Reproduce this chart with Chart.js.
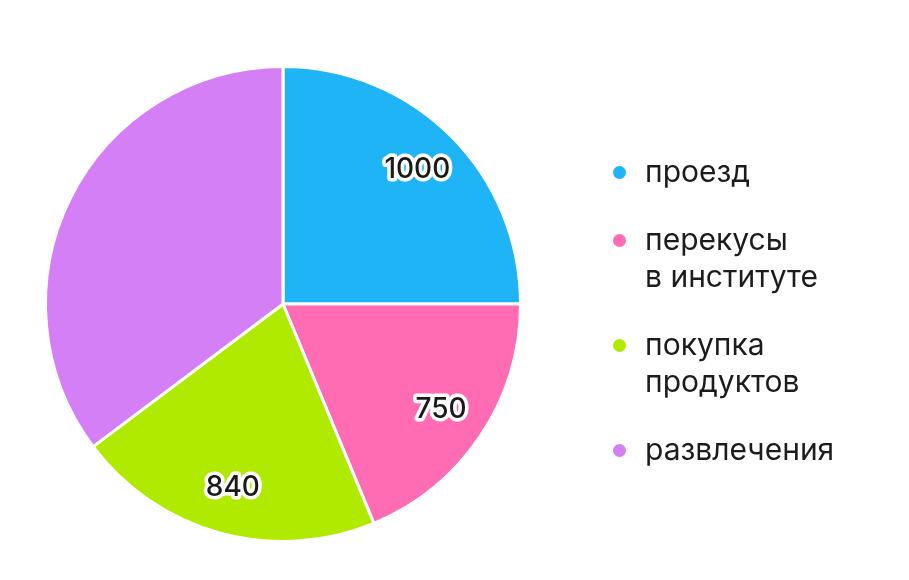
<!DOCTYPE html>
<html>
<head>
<meta charset="utf-8">
<script src="https://cdn.jsdelivr.net/npm/chart.js@4.4.1/dist/chart.umd.min.js"></script>
<style>
    html, body { margin: 0; padding: 0; background: #fff; }
    #wrap { position: relative; width: 909px; height: 580px; }
    #legend { position: absolute; left: 610px; top: 153px; font-family: Inter, "Noto Sans", sans-serif; font-size: 30px; color: #1c1c1c; }
    .item { position: relative; padding-left: 35px; line-height: 37px; margin-bottom: 31px; }
    .dot { position: absolute; left: 3px; top: 13px; width: 13px; height: 13px; border-radius: 50%; }
</style>
</head>
<body>
<div id="wrap">
    <canvas id="myChart" width="909" height="580"></canvas>
    <div id="legend"></div>
</div>
<script>
    // data
    const labels = [['проезд'], ['перекусы', 'в институте'], ['покупка', 'продуктов'], ['развлечения']];
    const values = [1000, 750, 840, 1410];
    const showValue = [true, true, true, false];
    const colors = ['#1fb4f5', '#ff6cb3', '#b0ea00', '#d47ff5'];

    let rows = ``;
    for (let i = 0; i < labels.length; i++) {
        rows += `<div class="item"><span class="dot" style="background:${colors[i]}"></span>${labels[i].join('<br>')}</div>`;
    }
    document.getElementById('legend').innerHTML = rows;

    // numbers on the slices, dark text with a white outline
    const sliceValues = {
        id: 'sliceValues',
        afterDatasetsDraw(chart) {
            const ctx = chart.ctx;
            const arcs = chart.getDatasetMeta(0).data;
            ctx.save();
            ctx.font = '500 28px Inter, "Noto Sans", sans-serif';
            ctx.textAlign = 'center';
            ctx.textBaseline = 'middle';
            ctx.lineJoin = 'round';
            arcs.forEach(function (arc, i) {
                if (!showValue[i]) return;
                const p = arc.getProps(['x', 'y', 'startAngle', 'endAngle', 'outerRadius'], true);
                const mid = (p.startAngle + p.endAngle) / 2;
                const r = p.outerRadius * 0.8;
                const x = p.x + Math.cos(mid) * r;
                const y = p.y + Math.sin(mid) * r;
                ctx.strokeStyle = '#ffffff';
                ctx.lineWidth = 7;
                ctx.strokeText(values[i], x, y);
                ctx.fillStyle = '#1a1a1a';
                ctx.fillText(values[i], x, y);
            });
            ctx.restore();
        }
    };

    new Chart('myChart', {
        type: 'pie',
        data: {
            labels: labels.map(l => l.join(' ')),
            datasets: [{
                data: values,
                backgroundColor: colors,
                borderColor: '#ffffff',
                borderWidth: 3,
                hoverOffset: 0
            }]
        },
        options: {
            responsive: false,
            animation: false,
            events: [],
            layout: { padding: { left: 44, right: 387, top: 65, bottom: 37 } },
            plugins: {
                legend: { display: false },
                tooltip: { enabled: false }
            }
        },
        plugins: [sliceValues]
    });
</script>
</body>
</html>
